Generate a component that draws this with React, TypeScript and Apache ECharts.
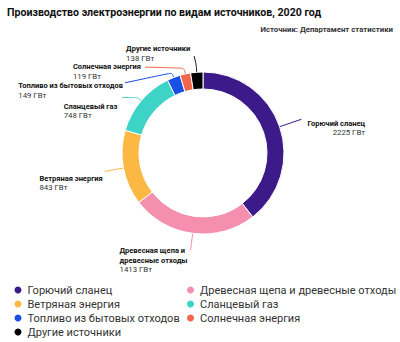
import React, { useEffect, useRef } from 'react';
import * as echarts from 'echarts';

const titleText = 'Производство электроэнергии по видам источников, 2020 год';
const sourceText = 'Источник: Департамент статистики';
const categories = [
  'Горючий сланец',
  'Древесная щепа и древесные отходы',
  'Ветряная энергия',
  'Сланцевый газ',
  'Топливо из бытовых отходов',
  'Солнечная энергия',
  'Другие источники',
];
const labelNames = [
  'Горючий сланец',
  'Древесная щепа и\nдревесные отходы',
  'Ветряная энергия',
  'Сланцевый газ',
  'Топливо из бытовых отходов',
  'Солнечная энергия',
  'Другие источники',
];
const values = [2225, 1413, 843, 748, 149, 119, 138];
const unit = 'ГВт';
const colors = ['#3d1a8a', '#f48fb0', '#fbb944', '#3dd3c6', '#1a4fe3', '#f0654c', '#000000'];
const legendCol1 = [categories[0], categories[2], categories[4], categories[6]];
const legendCol2 = [categories[1], categories[3], categories[5]];

// label-line styling (layout only)
const CX = 203;
const CY = 153;
const radialLen = [23, 17, 19, 5, 5, 6, 8];
const bendVec = [[0, 0], [-1, 0], [0, 0], [-15, 0], [-47, 10], [-39, -1], [-2, -8]];
const labelShift = [[6, -1], [-2, -4], [-2, 2], [-5, 4], [-2, -2], [-4, -5], [-4, -12.5]];

export default function App() {
  const ref = useRef<HTMLDivElement>(null);
  useEffect(() => {
    if (!ref.current) return;
    const chart = echarts.init(ref.current, null, { renderer: 'svg' });
    const legendBase = {
      orient: 'vertical',
      top: 283,
      height: 58,
      padding: 0,
      icon: 'circle',
      itemWidth: 9,
      itemHeight: 9,
      itemGap: 0,
      selectedMode: false,
      textStyle: { fontSize: 11, color: '#333333', lineHeight: 14, fontFamily: 'Roboto' },
    };
    const option: any = {
      animation: false,
      backgroundColor: '#ffffff',
      textStyle: { fontFamily: 'Roboto' },
      title: [
        {
          text: titleText,
          left: 2,
          top: 2,
          textStyle: { fontSize: 10.6, fontWeight: 'bold', color: '#111111', fontFamily: 'Roboto' },
        },
        {
          text: sourceText,
          right: 2,
          top: 20,
          textStyle: { fontSize: 7.8, fontWeight: 'bold', color: '#333333', fontFamily: 'Roboto' },
        },
      ],
      legend: [
        { ...legendBase, left: 12.5, data: legendCol1 },
        { ...legendBase, left: 185, data: legendCol2 },
      ],
      series: [
        {
          type: 'pie',
          center: [CX, CY],
          radius: [64, 81],
          startAngle: 90,
          clockwise: true,
          avoidLabelOverlap: false,
          itemStyle: { borderColor: '#ffffff', borderWidth: 1 },
          label: {
            show: true,
            position: 'outside',
            formatter: (p: any) => {
              const i = p.dataIndex;
              const suf = i === 0 ? 'r' : 'l';
              const lines = labelNames[i].split('\n').map((s) => `{n${suf}|${s}}`);
              lines.push(`{v${suf}|${values[i]} ${unit}}`);
              return lines.join('\n');
            },
            rich: {
              nl: { fontWeight: 'bold', fontSize: 7.5, color: '#111111', lineHeight: 9.5, align: 'left', fontFamily: 'Roboto' },
              vl: { fontSize: 7.8, color: '#333333', lineHeight: 9.5, align: 'left', fontFamily: 'Roboto' },
              nr: { fontWeight: 'bold', fontSize: 7.5, color: '#111111', lineHeight: 9.5, align: 'right', fontFamily: 'Roboto' },
              vr: { fontSize: 7.8, color: '#333333', lineHeight: 9.5, align: 'right', fontFamily: 'Roboto' },
            },
          },
          labelLine: { show: true, length: 10, length2: 5, smooth: 0.25, lineStyle: { width: 1 } },
          labelLayout: (params: any) => {
            const i = params.dataIndex;
            const pts = params.labelLinePoints;
            if (!pts) return {};
            const p0 = pts[0];
            const dx = p0[0] - CX;
            const dy = p0[1] - CY;
            const len = Math.hypot(dx, dy) || 1;
            const p1 = [p0[0] + (dx / len) * radialLen[i], p0[1] + (dy / len) * radialLen[i]];
            const p2 = [p1[0] + bendVec[i][0], p1[1] + bendVec[i][1]];
            return {
              x: p2[0] + labelShift[i][0],
              y: p2[1] + labelShift[i][1],
              align: i === 0 ? 'left' : 'right',
              verticalAlign: 'top',
              labelLinePoints: [[p0[0], p0[1]], p1, p2],
            };
          },
          data: categories.map((name, i) => ({
            name,
            value: values[i],
            itemStyle: { color: colors[i] },
          })),
        },
      ],
    };
    chart.setOption(option);
    return () => chart.dispose();
  }, []);
  return (
    <div
      ref={ref}
      style={{ position: 'fixed', left: 0, top: 0, width: 400, height: 342 }}
    />
  );
}
